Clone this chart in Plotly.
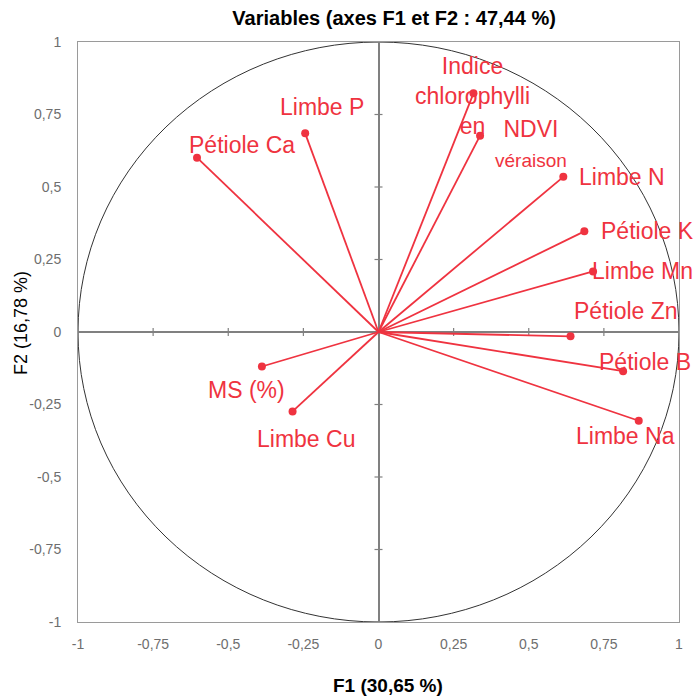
import plotly.graph_objects as go

# ---- data ----
variables = ["Pétiole Ca", "Limbe P", "Indice chlorophyllien", "NDVI véraison",
             "Limbe N", "Pétiole K", "Limbe Mn", "Pétiole Zn", "Pétiole B",
             "Limbe Na", "MS (%)", "Limbe Cu"]
f1 = [-0.604, -0.244, 0.316, 0.338, 0.615, 0.685, 0.714, 0.639, 0.814, 0.866, -0.388, -0.286]
f2 = [0.601, 0.685, 0.823, 0.677, 0.535, 0.347, 0.209, -0.015, -0.135, -0.306, -0.119, -0.274]
label_texts = ["Pétiole Ca", "Limbe P", "Indice<br>chlorophylli<br>en",
               "NDVI<br><span style='font-size:19px'>véraison</span>",
               "Limbe N", "Pétiole K", "Limbe Mn", "Pétiole Zn", "Pétiole B",
               "Limbe Na", "MS (%)", "Limbe Cu"]
tick_vals = [-1, -0.75, -0.5, -0.25, 0, 0.25, 0.5, 0.75, 1]
tick_text = ["-1", "-0,75", "-0,5", "-0,25", "0", "0,25", "0,5", "0,75", "1"]

# ---- styling / label placement (pixel offsets: right, down) ----
label_offsets = {
    "Pétiole Ca": (45, -13), "Limbe P": (17, -26), "Indice chlorophyllien": (-1, 3),
    "NDVI véraison": (51, 8), "Limbe N": (59, 0), "Pétiole K": (63, 0),
    "Limbe Mn": (49, 0), "Pétiole Zn": (55, -25), "Pétiole B": (22, -9),
    "Limbe Na": (-13, 15), "MS (%)": (-15, 23), "Limbe Cu": (13, 28),
}
RED = "#EF3340"
GRAY = "#808080"
LABEL_FONT = "Liberation Sans, Arial, sans-serif"
TICK_FONT = "Liberation Sans Narrow, Arial Narrow, Liberation Sans, Arial, sans-serif"

fig = go.Figure()

# vectors from origin
for name, x, y in zip(variables, f1, f2):
    fig.add_trace(go.Scatter(x=[0, x], y=[0, y], mode="lines",
                             line=dict(color=RED, width=1.8), hoverinfo="skip",
                             showlegend=False))
# end points
fig.add_trace(go.Scatter(x=f1, y=f2, mode="markers", text=variables,
                         marker=dict(color=RED, size=8), showlegend=False))

# correlation circle
fig.add_shape(type="circle", xref="x", yref="y", x0=-1, y0=-1, x1=1, y1=1,
              line=dict(color="#333333", width=1), layer="below")

# tick marks crossing the zero axes
for v in tick_vals:
    fig.add_shape(type="line", xref="x", yref="y", x0=v, x1=v,
                  ysizemode="pixel", yanchor=0, y0=-4, y1=4,
                  line=dict(color=GRAY, width=1.2), layer="below")
    fig.add_shape(type="line", xref="x", yref="y", y0=v, y1=v,
                  xsizemode="pixel", xanchor=0, x0=-4, x1=4,
                  line=dict(color=GRAY, width=1.2), layer="below")

# labels
annotations = []
for name, txt, x, y in zip(variables, label_texts, f1, f2):
    dx, dy = label_offsets[name]
    annotations.append(dict(x=x, y=y, xref="x", yref="y", text=txt, showarrow=False,
                            xshift=dx, yshift=-dy,
                            font=dict(family=LABEL_FONT, size=23, color=RED)))
annotations.append(dict(text="<b>F1</b> <b>(30,65 %)</b>", xref="paper", yref="paper",
                        x=0.516, y=-0.131, showarrow=False,
                        font=dict(family=LABEL_FONT, size=19, color="#000000")))
annotations.append(dict(text="F2 (16,78 %)", xref="paper", yref="paper",
                        x=-0.116, y=0.516, showarrow=False, textangle=-90,
                        font=dict(family=LABEL_FONT, size=18, color="#000000")))

axis_common = dict(
    range=[-1, 1], tickvals=tick_vals, ticktext=tick_text, ticks="",
    showgrid=False, zeroline=True, zerolinecolor=GRAY, zerolinewidth=1.5,
    showline=True, mirror=True, linecolor="#9a9a9a", linewidth=1,
    tickfont=dict(family=TICK_FONT, size=14, color="#6e6e6e"),
)

fig.update_layout(
    width=699, height=696,
    margin=dict(l=78, r=20, t=42, b=74),
    paper_bgcolor="white", plot_bgcolor="white",
    title=dict(text="<b>Variables (axes F1 et F2 : 47,44 %)</b>",
               x=0.526, xref="paper", xanchor="center",
               y=1 - 18 / 696, yref="container", yanchor="middle",
               font=dict(family=LABEL_FONT, size=20, color="#000000")),
    xaxis=dict(**axis_common, ticklabelstandoff=9),
    yaxis=dict(**axis_common, ticklabelstandoff=13),
    annotations=annotations,
    showlegend=False,
)

fig.write_html("out.html")
